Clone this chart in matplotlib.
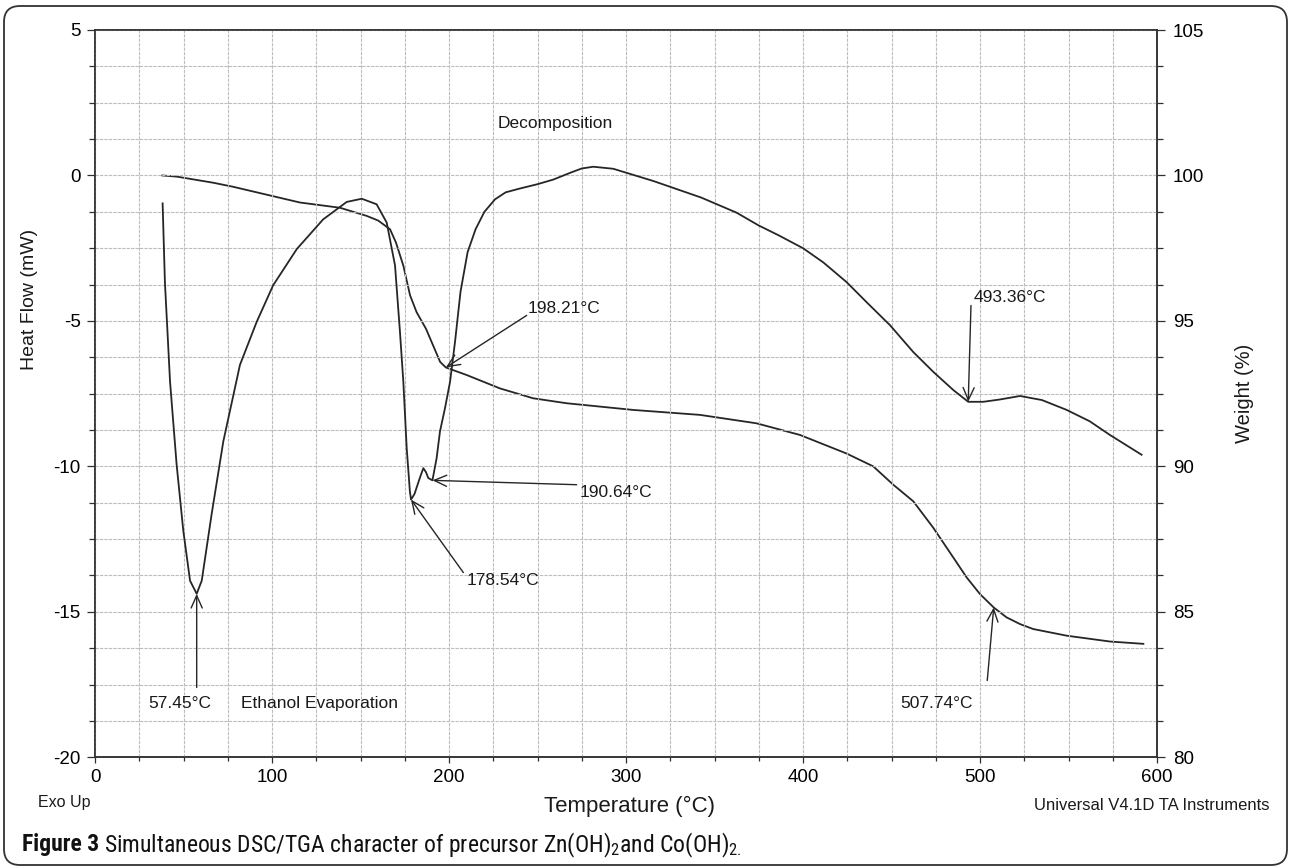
import numpy as np
import matplotlib
matplotlib.use("Agg")
import matplotlib.pyplot as plt
from matplotlib.ticker import MultipleLocator
from matplotlib.patches import FancyBboxPatch
from matplotlib import font_manager

plt.rcParams['font.family'] = ['Liberation Sans', 'DejaVu Sans']
plt.rcParams['axes.unicode_minus'] = False
plt.rcParams['mathtext.default'] = 'regular'

# ---- DSC heat flow (mW) vs temperature (°C) ----
dsc_temp = [38.2, 39.5, 42.4, 46.1, 49.9, 53.7, 57.45, 60.3, 65.9, 72.5, 81.9,
            91.3, 100.6, 114.0, 128.9, 142.2, 150.7, 159.1, 164.8, 169.5,
            172.3, 174.2, 176.1, 177.9, 178.54, 180.5, 183.5, 185.5, 187.0,
            188.3, 190.64, 193.0, 194.9, 197.7, 200.6, 203.4, 206.5, 210.5,
            215.0, 220.0, 226.0, 232.0, 240.0, 250.0, 259.0, 268.4, 275.0,
            281.5, 292.8, 315.4, 342.5, 362.5, 375.0, 386.0, 400.0, 411.5,
            424.7, 436.0, 449.2, 462.3, 473.6, 485.0, 493.36, 501.9, 511.3,
            522.6, 535.0, 549.0, 562.0, 573.4, 591.3]
dsc_flow = [-0.96, -3.67, -7.09, -9.93, -12.22, -13.93, -14.38, -13.93, -11.64,
            -9.14, -6.51, -5.04, -3.78, -2.53, -1.51, -0.91, -0.80, -0.99,
            -1.62, -3.09, -5.38, -7.09, -9.37, -10.86, -11.14, -10.95, -10.40,
            -10.06, -10.20, -10.40, -10.48, -9.72, -8.80, -8.01, -7.09, -5.72,
            -4.00, -2.64, -1.85, -1.25, -0.82, -0.58, -0.45, -0.30, -0.14,
            0.09, 0.24, 0.30, 0.23, -0.19, -0.76, -1.28, -1.72, -2.05, -2.50,
            -2.99, -3.67, -4.36, -5.15, -6.07, -6.75, -7.38, -7.78, -7.78,
            -7.70, -7.58, -7.72, -8.06, -8.45, -8.92, -9.60]

# ---- TGA weight (%) vs temperature (°C) ----
tga_temp = [38.0, 46.2, 66.8, 78.1, 115.8, 138.4, 153.5, 160.0, 166.7, 170.0,
            174.2, 178.0, 181.7, 187.0, 195.0, 198.21, 210.0, 228.8, 247.6,
            266.5, 304.1, 341.8, 373.8, 398.3, 424.7, 439.7, 451.0, 462.3,
            473.6, 485.0, 492.5, 500.0, 507.74, 515.0, 522.6, 530.0, 549.0,
            573.4, 592.3]
tga_weight = [100.0, 99.96, 99.75, 99.61, 99.07, 98.89, 98.61, 98.45, 98.15,
              97.70, 96.90, 95.88, 95.30, 94.73, 93.59, 93.40, 93.14, 92.68,
              92.34, 92.17, 91.94, 91.77, 91.48, 91.08, 90.44, 90.00, 89.37,
              88.80, 87.89, 86.86, 86.18, 85.61, 85.15, 84.81, 84.58, 84.41,
              84.18, 83.98, 83.90]

# marked temperatures
dsc_marks = [57.45, 178.54, 190.64, 493.36]
tga_marks = [198.21, 507.74]

W, H = 1290, 867
fig = plt.figure(figsize=(W / 100, H / 100), dpi=100)


def fx(px):
    return px / W


def fy(py):
    return 1 - py / H


ax = fig.add_axes([fx(95), fy(757.3), fx(1157) - fx(95), fy(30) - fy(757.3)])
ax2 = ax.twinx()
ax.set_zorder(2)
ax.patch.set_visible(False)

ax.set_xlim(0, 600)
ax.set_ylim(-20, 5)
ax2.set_ylim(80, 105)

ax.xaxis.set_major_locator(MultipleLocator(100))
ax.xaxis.set_minor_locator(MultipleLocator(25))
ax.yaxis.set_major_locator(MultipleLocator(5))
ax.yaxis.set_minor_locator(MultipleLocator(1.25))
ax2.yaxis.set_major_locator(MultipleLocator(5))
ax2.yaxis.set_minor_locator(MultipleLocator(1.25))

grid_kw = dict(color='#bdbdbd', lw=0.8, ls=(0, (3, 1)))
ax.grid(True, which='both', axis='both', **grid_kw)
ax.set_axisbelow(True)

line_col = '#262626'
for a in (ax, ax2):
    for s in a.spines.values():
        s.set_linewidth(1.1)
        s.set_color('#303030')

ax.tick_params(axis='x', which='major', direction='out', length=4.5, width=0.9,
               pad=4, labelsize=13.5, color='#303030')
ax.tick_params(axis='x', which='minor', direction='out', length=3, width=0.9,
               color='#303030')
ax.tick_params(axis='y', which='major', direction='out', length=5.8, width=0.9,
               pad=4.5, labelsize=13.5, right=False, color='#303030')
ax.tick_params(axis='y', which='minor', direction='out', length=4.2, width=0.9,
               right=False, color='#303030')
ax2.tick_params(axis='y', which='major', direction='out', length=5.8, width=0.9,
                pad=5.5, labelsize=13.5, left=False, color='#303030')
ax2.tick_params(axis='y', which='minor', direction='out', length=4.2, width=0.9,
                left=False, color='#303030')

ax.plot(dsc_temp, dsc_flow, color=line_col, lw=1.3, zorder=3)
ax2.plot(tga_temp, tga_weight, color=line_col, lw=1.3, zorder=3)

# axis labels
fig.text(fx(30), fy(299), 'Heat Flow (mW)', rotation=90, ha='center',
         va='center', fontsize=14, color='#1a1a1a')
fig.text(fx(1245), fy(393), 'Weight (%)', rotation=90, ha='center',
         va='center', fontsize=14.5, color='#1a1a1a')
fig.text(fx(630), fy(806), 'Temperature (°C)', ha='center', va='center',
         fontsize=16, color='#1a1a1a')
fig.text(fx(38), fy(803), 'Exo Up', ha='left', va='center', fontsize=11.5,
         color='#1a1a1a')
fig.text(fx(1270), fy(805), 'Universal V4.1D TA Instruments', ha='right',
         va='center', fontsize=12, color='#1a1a1a')

# annotations
txt_kw = dict(fontsize=12.5, color='#1a1a1a', va='center', ha='left')
arrow_kw = dict(arrowstyle='->,head_length=0.45,head_width=0.2',
                mutation_scale=20, lw=1.0, color=line_col,
                shrinkA=0, shrinkB=0)


def dsc_at(t):
    return float(np.interp(t, dsc_temp, dsc_flow))


def tga_at(t):
    return float(np.interp(t, tga_temp, tga_weight))


ax.text(227.7, 1.77, 'Decomposition', **txt_kw)
ax.text(30.0, -18.15, '57.45°C', **txt_kw)
ax.text(82.5, -18.15, 'Ethanol Evaporation', **txt_kw)

# DSC peaks
dsc_label_pos = {57.45: None, 178.54: (209.9, -13.93),
                 190.64: (274.0, -10.91), 493.36: (496.2, -4.2)}
dsc_arrow_tail = {57.45: (57.45, -17.6), 178.54: (208.1, -13.65),
                  190.64: (272.1, -10.63), 493.36: (494.9, -4.47)}
for t in dsc_marks:
    pos = dsc_label_pos[t]
    if pos is not None:
        ax.text(pos[0], pos[1], f'{t:.2f}°C', **txt_kw)
    ax.annotate('', xy=(t, dsc_at(t)), xycoords=ax.transData,
                xytext=dsc_arrow_tail[t], textcoords=ax.transData,
                arrowprops=arrow_kw, zorder=4)

# TGA steps
tga_label_pos = {198.21: (244.6, -4.56), 507.74: (454.8, -18.15)}
tga_arrow_tail = {198.21: (243.9, -4.81), 507.74: (504.1, -17.36)}
for t in tga_marks:
    pos = tga_label_pos[t]
    ax.text(pos[0], pos[1], f'{t:.2f}°C', **txt_kw)
    ax.annotate('', xy=(t, tga_at(t)), xycoords=ax2.transData,
                xytext=tga_arrow_tail[t], textcoords=ax.transData,
                arrowprops=arrow_kw, zorder=4)

# caption, sized to span the same width as the plot caption line
names = {f.name for f in font_manager.fontManager.ttflist}
cap_family = 'Lato'
for cand in ['Liberation Sans Narrow', 'Roboto Condensed',
             'Open Sans Condensed', 'Lato']:
    if cand in names:
        cap_family = cand
        break

cap_rest = 'Simultaneous DSC/TGA character of precursor Zn(OH)$_2$and Co(OH)$_{2.}$'
cap_left, cap_right, cap_y = 22, 745, 845


def place_caption(size):
    a = fig.text(fx(cap_left), fy(cap_y), 'Figure 3', family=cap_family,
                 fontweight='bold', fontsize=size, ha='left', va='center',
                 color='#111111')
    fig.canvas.draw()
    bb = a.get_window_extent()
    b = fig.text((bb.x1 + 0.3 * size) / W, fy(cap_y), cap_rest,
                 family=cap_family, fontsize=size, ha='left', va='center',
                 color='#111111')
    fig.canvas.draw()
    return a, b, b.get_window_extent().x1


size = 15.0
t1, t2, right = place_caption(size)
size = size * (cap_right - cap_left) / (right - cap_left)
t1.remove()
t2.remove()
place_caption(size)

# rounded frame
frame = FancyBboxPatch((4 / 100, 2 / 100), (1287 - 4) / 100, (865 - 6) / 100,
                       boxstyle='round,pad=0,rounding_size=0.16',
                       transform=fig.dpi_scale_trans, fill=False,
                       edgecolor='#333333', lw=1.3)
fig.patches.append(frame)

fig.savefig('out.png', dpi=100)
